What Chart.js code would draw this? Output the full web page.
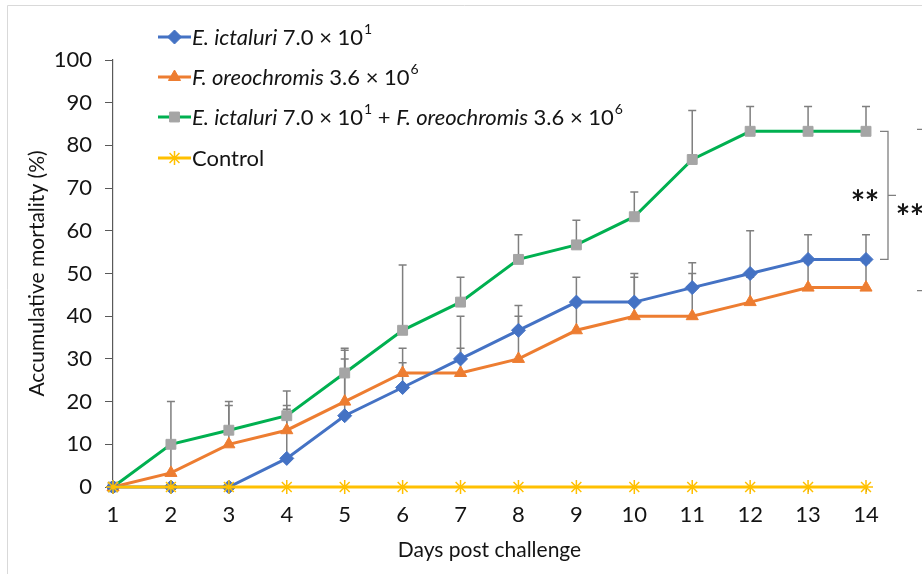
<!DOCTYPE html>
<html>
<head>
<meta charset="utf-8">
<script src="https://cdn.jsdelivr.net/npm/chart.js@4.4.1/dist/chart.umd.min.js"></script>
<style>
  body { margin: 0; background: #fff; }
  canvas { display: block; }
</style>
</head>
<body>
<canvas id="myChart" width="922" height="574"></canvas>
<script>
// Days post challenge (x axis)
const days = [1, 2, 3, 4, 5, 6, 7, 8, 9, 10, 11, 12, 13, 14];

// Accumulative mortality (%) per group
const eIctaluri = [0, 0, 0, 6.7, 16.7, 23.3, 30, 36.7, 43.3, 43.3, 46.7, 50, 53.3, 53.3];
const fOreochromis = [0, 3.3, 10, 13.3, 20, 26.7, 26.7, 30, 36.7, 40, 40, 43.3, 46.7, 46.7];
const coInfection = [0, 10, 13.3, 16.7, 26.7, 36.7, 43.3, 53.3, 56.7, 63.3, 76.7, 83.3, 83.3, 83.3];
const control = [0, 0, 0, 0, 0, 0, 0, 0, 0, 0, 0, 0, 0, 0];

// Upper error bars (SD)
const eIctaluriErr = [0, 0, 0, 11.5, 15.3, 5.8, 10, 5.8, 5.8, 5.8, 5.8, 10, 5.8, 5.8];
const fOreochromisErr = [0, 5.8, 10, 5.8, 10, 5.8, 5.8, 10, 5.8, 10, 10, 5.8, 5.8, 5.8];
const coInfectionErr = [0, 10, 5.8, 5.8, 5.8, 15.3, 5.8, 5.8, 5.8, 5.8, 11.5, 5.8, 5.8, 5.8];

const yTicks = [0, 10, 20, 30, 40, 50, 60, 70, 80, 90, 100];

const FONT = 'Lato, "Open Sans", sans-serif';
const TEXT = '#141414';

// legend text pieces: [text, italic, superscript]
const legendLabels = [
    [['E. ictaluri', true], [' 7.0 × 10', false], ['1', false, true]],
    [['F. oreochromis', true], [' 3.6 × 10', false], ['6', false, true]],
    [['E. ictaluri', true], [' 7.0 × 10', false], ['1', false, true], [' + ', false],
     ['F. oreochromis', true], [' 3.6 × 10', false], ['6', false, true]],
    [['Control', false]]
];

// error bars drawn under the lines
const errorBars = {
    id: 'errorBars',
    beforeDatasetsDraw(chart) {
        const ctx = chart.ctx;
        const yScale = chart.scales.y;
        ctx.save();
        ctx.strokeStyle = '#7f7f7f';
        ctx.lineWidth = 1.5;
        chart.data.datasets.forEach((ds, i) => {
            if (!ds.errors) return;
            const meta = chart.getDatasetMeta(i);
            meta.data.forEach((pt, j) => {
                const err = ds.errors[j];
                if (!err) return;
                const top = yScale.getPixelForValue(ds.data[j] + err);
                ctx.beginPath();
                ctx.moveTo(pt.x, pt.y);
                ctx.lineTo(pt.x, top);
                ctx.moveTo(pt.x - 4, top);
                ctx.lineTo(pt.x + 4, top);
                ctx.stroke();
            });
        });
        ctx.restore();
    }
};

function drawStars(ctx, cx, cy) {
    // two heavy asterisks
    ctx.font = 'bold 34px ' + FONT;
    ctx.textAlign = 'center';
    ctx.textBaseline = 'middle';
    ctx.fillText('*', cx - 7, cy + 9);
    ctx.fillText('*', cx + 7, cy + 9);
}

// legend with italic names and superscripts, brackets with ** and the frame
const extras = {
    id: 'extras',
    afterDraw(chart) {
        const ctx = chart.ctx;
        const yScale = chart.scales.y;
        const xScale = chart.scales.x;
        ctx.save();

        // thin frame round the figure
        ctx.strokeStyle = '#d9d9d9';
        ctx.lineWidth = 1;
        ctx.beginPath();
        ctx.moveTo(7.5, 574);
        ctx.lineTo(7.5, 5.5);
        ctx.lineTo(922, 5.5);
        ctx.stroke();

        // legend
        const rowsY = [37, 77, 117, 158];
        chart.data.datasets.forEach((ds, i) => {
            const y = rowsY[i];
            ctx.strokeStyle = ds.borderColor;
            ctx.lineWidth = 3;
            ctx.beginPath();
            ctx.moveTo(158, y);
            ctx.lineTo(191, y);
            ctx.stroke();
            ctx.fillStyle = ds.pointBackgroundColor;
            ctx.strokeStyle = ds.pointBorderColor;
            ctx.lineWidth = ds.pointBorderWidth;
            Chart.helpers.drawPoint(ctx, {
                pointStyle: ds.pointStyle, radius: ds.pointRadius,
                borderWidth: ds.pointBorderWidth, rotation: 0
            }, 174.5, y);

            let x = 192;
            ctx.fillStyle = TEXT;
            ctx.textBaseline = 'middle';
            ctx.textAlign = 'left';
            legendLabels[i].forEach(([t, italic, sup]) => {
                if (sup) {
                    ctx.font = '14px ' + FONT;
                    ctx.fillText(t, x + 1, y - 8);
                    x += ctx.measureText(t).width + 1;
                } else {
                    ctx.font = (italic ? 'italic ' : '') + '22px ' + FONT;
                    ctx.fillText(t, x, y + 1);
                    x += ctx.measureText(t).width;
                }
            });
        });

        // significance brackets
        const last = days.length - 1;
        const yTop = yScale.getPixelForValue(coInfection[last]);
        const yBlue = yScale.getPixelForValue(eIctaluri[last]);
        const yOrange = yScale.getPixelForValue(fOreochromis[last]);
        const bx = xScale.right + 22;
        ctx.strokeStyle = '#7f7f7f';
        ctx.lineWidth = 1.3;
        ctx.beginPath();
        ctx.moveTo(bx - 8, yTop);
        ctx.lineTo(bx, yTop);
        ctx.lineTo(bx, yBlue);
        ctx.lineTo(bx - 8, yBlue);
        ctx.moveTo(bx, (yTop + yBlue) / 2);
        ctx.lineTo(bx + 8, (yTop + yBlue) / 2);
        // second bracket, mostly off the edge
        const bx2 = bx + 29;
        ctx.moveTo(bx2, yTop - 2);
        ctx.lineTo(bx2 + 10, yTop - 2);
        ctx.moveTo(bx2, yOrange + 3);
        ctx.lineTo(bx2 + 10, yOrange + 3);
        ctx.stroke();

        ctx.fillStyle = TEXT;
        drawStars(ctx, bx - 23, (yTop + yBlue) / 2);
        drawStars(ctx, bx + 22, (yTop + yOrange) / 2);
        ctx.restore();
    }
};

const ctx = document.getElementById('myChart').getContext('2d');
const myChart = new Chart(ctx, {
    type: 'line',
    data: {
        labels: days,
        datasets: [
            {
                label: 'E. ictaluri 7.0 × 10¹',
                data: eIctaluri,
                errors: eIctaluriErr,
                borderColor: '#4472c4',
                borderWidth: 3,
                pointStyle: 'rectRot',
                pointRadius: 7,
                pointBackgroundColor: '#4472c4',
                pointBorderColor: '#4472c4',
                pointBorderWidth: 1,
                order: 1
            },
            {
                label: 'F. oreochromis 3.6 × 10⁶',
                data: fOreochromis,
                errors: fOreochromisErr,
                borderColor: '#ed7d31',
                borderWidth: 3,
                pointStyle: 'triangle',
                pointRadius: 7,
                pointBackgroundColor: '#ed7d31',
                pointBorderColor: '#ed7d31',
                pointBorderWidth: 1,
                order: 2
            },
            {
                label: 'E. ictaluri 7.0 × 10¹ + F. oreochromis 3.6 × 10⁶',
                data: coInfection,
                errors: coInfectionErr,
                borderColor: '#00b050',
                borderWidth: 3,
                pointStyle: 'rect',
                pointRadius: 7,
                pointBackgroundColor: '#a5a5a5',
                pointBorderColor: '#a5a5a5',
                pointBorderWidth: 1,
                order: 3
            },
            {
                label: 'Control',
                data: control,
                borderColor: '#ffc000',
                borderWidth: 3,
                pointStyle: 'star',
                pointRadius: 7,
                pointBackgroundColor: '#ffc000',
                pointBorderColor: '#ffc000',
                pointBorderWidth: 1.5,
                order: 0
            }
        ]
    },
    options: {
        responsive: false,
        animation: false,
        clip: false,
        layout: { padding: { top: 60, right: 56, left: 0, bottom: 0 } },
        elements: { line: { tension: 0 } },
        scales: {
            x: {
                type: 'category',
                offset: false,
                afterFit: (scale) => { scale.height = 87; },
                grid: {
                    display: true, drawOnChartArea: false, drawTicks: true,
                    tickLength: 5, color: '#595959', offset: false
                },
                border: { display: true, color: '#595959', width: 1.2 },
                ticks: { color: TEXT, font: { family: FONT, size: 22 }, padding: 10, maxRotation: 0 },
                title: {
                    display: true, text: 'Days post challenge', color: TEXT,
                    font: { family: FONT, size: 21 }, padding: { top: 0, bottom: 11 }
                }
            },
            y: {
                min: 0,
                max: 100,
                afterFit: (scale) => { scale.width = 113; },
                afterBuildTicks: (scale) => { scale.ticks = yTicks.map(v => ({ value: v })); },
                grid: {
                    display: true, drawOnChartArea: false, drawTicks: true,
                    tickLength: 8, color: '#595959'
                },
                border: { display: true, color: '#595959', width: 1.2 },
                ticks: { color: TEXT, font: { family: FONT, size: 22 }, padding: 13 },
                title: {
                    display: true, text: 'Accumulative mortality (%)', color: TEXT,
                    font: { family: FONT, size: 21 }, padding: { top: 25, bottom: 0 }
                }
            }
        },
        plugins: {
            legend: { display: false },
            tooltip: { enabled: false }
        }
    },
    plugins: [errorBars, extras]
});
</script>
</body>
</html>
